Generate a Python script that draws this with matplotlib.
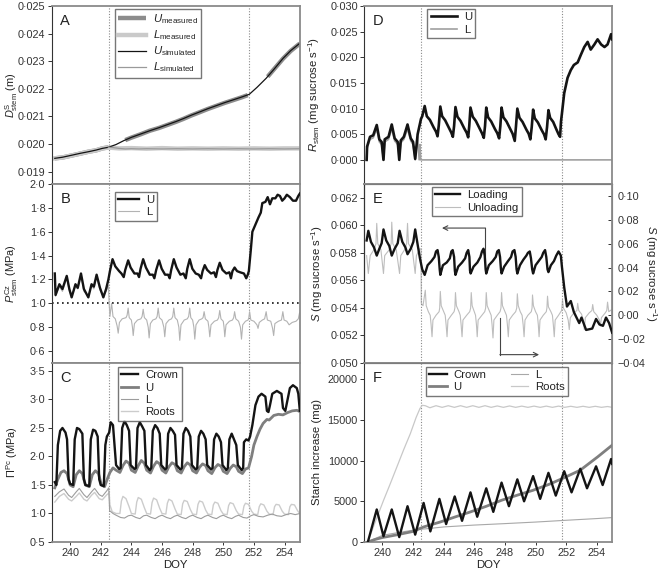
import numpy as np
import matplotlib
matplotlib.use('Agg')
import matplotlib.pyplot as plt
from matplotlib.ticker import FuncFormatter, MultipleLocator

plt.rcParams['font.family'] = ['Liberation Sans', 'DejaVu Sans']
plt.rcParams['mathtext.fontset'] = 'custom'
plt.rcParams['mathtext.rm'] = 'Liberation Sans'
plt.rcParams['mathtext.it'] = 'Liberation Sans:italic'
plt.rcParams['font.size'] = 8.2
plt.rcParams['text.color'] = '#222222'
plt.rcParams['axes.labelcolor'] = '#222222'
plt.rcParams['xtick.color'] = '#333333'
plt.rcParams['ytick.color'] = '#333333'

# ---- data (day of year, value) ----
# A: stem diameter (m)
a_u_meas_1 = [(239.0, 0.01948), (239.5, 0.01951), (240.0, 0.01957), (240.65, 0.01965), (241.2, 0.01972),
              (241.7, 0.01977), (242.1, 0.01984), (242.5, 0.01988)]
a_u_meas_2 = [(243.6, 0.02014), (244.0, 0.02023), (244.6, 0.02035), (245.2, 0.02048), (245.8, 0.02058),
              (246.3, 0.02068), (246.9, 0.02080), (247.4, 0.02091), (247.9, 0.02103), (248.5, 0.02116),
              (249.0, 0.02127), (249.6, 0.02139), (250.1, 0.02149), (250.6, 0.02158), (251.2, 0.02169),
              (251.6, 0.02177)]
a_u_meas_3 = [(252.9, 0.02244), (253.3, 0.02270), (253.9, 0.02309), (254.4, 0.02337), (255.0, 0.02364)]
a_l_meas = [(239.0, 0.01948), (239.5, 0.01951), (240.0, 0.01957), (240.65, 0.01965), (241.2, 0.01972),
            (241.7, 0.01977), (242.1, 0.01984), (242.5, 0.01987), (243.2, 0.01984), (244.0, 0.01985),
            (245.0, 0.01983), (246.0, 0.01985), (247.0, 0.01983), (248.0, 0.01984), (249.0, 0.01983),
            (250.0, 0.01984), (251.0, 0.01983), (252.0, 0.01984), (253.0, 0.01983), (254.0, 0.01984),
            (255.0, 0.01984)]
a_u_sim = [(239.0, 0.01948), (239.5, 0.01952), (240.0, 0.01958), (240.65, 0.01966), (241.2, 0.01972),
           (241.7, 0.01978), (242.1, 0.01984), (242.5, 0.01988), (243.0, 0.01998), (243.5, 0.02012),
           (244.0, 0.02024), (244.6, 0.02036), (245.2, 0.02048), (245.8, 0.02059), (246.3, 0.02069),
           (246.9, 0.02081), (247.4, 0.02092), (247.9, 0.02104), (248.5, 0.02117), (249.0, 0.02128),
           (249.6, 0.02140), (250.1, 0.02150), (250.6, 0.02159), (251.2, 0.02170), (251.7, 0.02180),
           (252.2, 0.02205), (252.8, 0.02238), (253.3, 0.02270), (253.9, 0.02310), (254.4, 0.02338),
           (255.0, 0.02365)]
a_l_sim = [(242.5, 0.01988), (242.8, 0.01987), (243.2, 0.01984), (243.6, 0.01982), (244.0, 0.01983),
           (244.5, 0.01982), (245.0, 0.01983), (246.0, 0.01982), (247.0, 0.01983), (248.0, 0.01982),
           (249.0, 0.01983), (250.0, 0.01982), (251.0, 0.01983), (252.0, 0.01982), (253.0, 0.01983),
           (254.0, 0.01982), (255.0, 0.01983)]

# B: turgor pressure (MPa)
b_u = [(239.0, 1.25), (239.05, 1.07), (239.3, 1.16), (239.5, 1.12), (239.78, 1.23), (239.95, 1.12),
       (240.1, 1.05), (240.35, 1.16), (240.5, 1.13), (240.71, 1.25), (240.9, 1.12), (241.19, 1.05),
       (241.4, 1.16), (241.55, 1.14), (241.73, 1.24), (241.95, 1.13), (242.17, 1.05), (242.35, 1.12),
       (242.5, 1.20), (242.6, 1.27), (242.77, 1.37), (242.95, 1.31), (243.2, 1.27), (243.35, 1.25),
       (243.5, 1.22), (243.6, 1.28), (243.79, 1.36), (243.95, 1.30), (244.2, 1.25), (244.4, 1.25),
       (244.5, 1.22), (244.6, 1.29), (244.77, 1.37), (244.95, 1.30), (245.2, 1.24), (245.4, 1.24),
       (245.5, 1.21), (245.62, 1.28), (245.81, 1.36), (245.98, 1.29), (246.2, 1.24), (246.4, 1.24),
       (246.5, 1.21), (246.6, 1.28), (246.77, 1.37), (246.95, 1.30), (247.2, 1.24), (247.4, 1.25),
       (247.55, 1.21), (247.65, 1.29), (247.81, 1.37), (247.98, 1.29), (248.2, 1.25), (248.4, 1.24),
       (248.55, 1.21), (248.65, 1.27), (248.79, 1.32), (248.95, 1.28), (249.2, 1.25), (249.4, 1.26),
       (249.52, 1.22), (249.62, 1.28), (249.77, 1.34), (249.95, 1.28), (250.2, 1.25), (250.4, 1.26),
       (250.5, 1.21), (250.6, 1.27), (250.74, 1.30), (250.9, 1.27), (251.1, 1.26), (251.35, 1.25),
       (251.5, 1.21), (251.6, 1.24), (251.67, 1.27), (251.8, 1.45), (251.9, 1.60), (252.1, 1.66),
       (252.3, 1.72), (252.45, 1.76), (252.55, 1.84), (252.75, 1.85), (252.9, 1.89), (253.05, 1.83),
       (253.2, 1.88), (253.4, 1.88), (253.55, 1.91), (253.7, 1.90), (253.85, 1.86), (254.0, 1.88),
       (254.15, 1.91), (254.35, 1.89), (254.55, 1.86), (254.75, 1.86), (254.9, 1.90), (255.0, 1.92)]
b_l = [(239.0, 1.23), (239.05, 1.06), (239.3, 1.14), (239.5, 1.10), (239.78, 1.21), (239.95, 1.10),
       (240.1, 1.06), (240.35, 1.14), (240.5, 1.12), (240.71, 1.23), (240.9, 1.10), (241.19, 1.06),
       (241.4, 1.15), (241.55, 1.12), (241.73, 1.22), (241.95, 1.11), (242.17, 1.06), (242.35, 1.10),
       (242.5, 1.15), (242.55, 1.00), (242.6, 0.89), (242.71, 1.00), (242.8, 0.89), (242.95, 0.87),
       (243.07, 0.81), (243.14, 0.75), (243.22, 0.84), (243.4, 0.87), (243.65, 0.88), (243.72, 0.90),
       (243.79, 0.96), (243.86, 0.88), (244.0, 0.86), (244.07, 0.80), (244.12, 0.73), (244.2, 0.83),
       (244.4, 0.86), (244.62, 0.87), (244.7, 0.89), (244.77, 0.95), (244.85, 0.88), (245.0, 0.86),
       (245.1, 0.80), (245.16, 0.71), (245.24, 0.83), (245.4, 0.86), (245.6, 0.87), (245.68, 0.89),
       (245.75, 0.96), (245.83, 0.88), (246.0, 0.86), (246.12, 0.80), (246.18, 0.72), (246.26, 0.83),
       (246.45, 0.86), (246.62, 0.87), (246.7, 0.89), (246.77, 0.96), (246.85, 0.88), (247.0, 0.86),
       (247.1, 0.80), (247.16, 0.69), (247.24, 0.82), (247.45, 0.86), (247.65, 0.87), (247.74, 0.89),
       (247.81, 0.96), (247.88, 0.88), (248.0, 0.86), (248.08, 0.80), (248.14, 0.70), (248.22, 0.82),
       (248.42, 0.86), (248.6, 0.87), (248.68, 0.88), (248.75, 0.93), (248.83, 0.87), (249.0, 0.85),
       (249.06, 0.80), (249.12, 0.72), (249.2, 0.82), (249.42, 0.85), (249.62, 0.86), (249.7, 0.88),
       (249.77, 0.94), (249.85, 0.87), (250.0, 0.85), (250.05, 0.80), (250.1, 0.72), (250.18, 0.82),
       (250.4, 0.85), (250.6, 0.86), (250.68, 0.88), (250.74, 0.93), (250.82, 0.87), (251.0, 0.85),
       (251.12, 0.80), (251.19, 0.70), (251.27, 0.82), (251.45, 0.85), (251.62, 0.86), (251.67, 0.88),
       (251.72, 0.93), (251.8, 0.86), (252.0, 0.85), (252.2, 0.82), (252.27, 0.79), (252.35, 0.84),
       (252.55, 0.86), (252.7, 0.87), (252.8, 0.93), (252.88, 0.86), (253.1, 0.85), (253.22, 0.79),
       (253.29, 0.73), (253.37, 0.83), (253.6, 0.85), (253.8, 0.86), (253.89, 0.93), (253.97, 0.86),
       (254.15, 0.85), (254.3, 0.82), (254.5, 0.84), (254.75, 0.85), (254.9, 0.87), (254.98, 0.92)]

# C: osmotic pressure (MPa)
c_crown = [(239.0, 1.55), (239.1, 1.50), (239.2, 2.20), (239.35, 2.45), (239.5, 2.50), (239.7, 2.42),
           (239.8, 2.30), (239.9, 1.60), (240.0, 1.52), (240.2, 1.50), (240.3, 2.30), (240.45, 2.50),
           (240.6, 2.48), (240.8, 2.40), (240.9, 1.60), (241.0, 1.50), (241.25, 1.48), (241.35, 2.30),
           (241.5, 2.47), (241.65, 2.45), (241.8, 2.35), (241.9, 1.60), (242.0, 1.50), (242.2, 1.48),
           (242.3, 2.20), (242.4, 2.35), (242.55, 2.42), (242.65, 2.60), (242.8, 2.55), (242.9, 2.20),
           (243.0, 1.85), (243.2, 1.78), (243.3, 1.80), (243.4, 2.50), (243.55, 2.62), (243.7, 2.55),
           (243.85, 2.45), (243.95, 1.85), (244.2, 1.78), (244.3, 1.80), (244.4, 2.50), (244.55, 2.60),
           (244.7, 2.53), (244.85, 2.45), (244.95, 1.85), (245.2, 1.76), (245.3, 1.80), (245.4, 2.45),
           (245.55, 2.55), (245.7, 2.50), (245.85, 2.40), (245.95, 1.85), (246.2, 1.77), (246.3, 1.80),
           (246.4, 2.40), (246.55, 2.50), (246.7, 2.45), (246.85, 2.38), (246.95, 1.85), (247.2, 1.77),
           (247.3, 1.80), (247.4, 2.40), (247.55, 2.50), (247.7, 2.45), (247.85, 2.35), (247.95, 1.85),
           (248.2, 1.77), (248.3, 1.80), (248.4, 2.35), (248.55, 2.45), (248.7, 2.40), (248.85, 2.30),
           (248.95, 1.85), (249.2, 1.77), (249.3, 1.80), (249.4, 2.30), (249.55, 2.40), (249.7, 2.35),
           (249.85, 2.25), (249.95, 1.85), (250.2, 1.76), (250.3, 1.80), (250.4, 2.30), (250.55, 2.40),
           (250.7, 2.30), (250.85, 2.20), (250.95, 1.85), (251.2, 1.76), (251.3, 1.80), (251.35, 2.25),
           (251.5, 2.30), (251.65, 2.28), (251.75, 2.35), (251.9, 2.55), (252.1, 2.90), (252.3, 3.05),
           (252.5, 3.10), (252.75, 3.05), (252.85, 2.80), (252.95, 2.78), (253.05, 2.90), (253.2, 3.10),
           (253.5, 3.15), (253.8, 3.10), (253.9, 2.85), (254.05, 2.80), (254.2, 3.00), (254.35, 3.20),
           (254.55, 3.25), (254.8, 3.20), (254.9, 3.10), (255.0, 2.80)]
c_u = [(239.0, 1.45), (239.2, 1.60), (239.4, 1.72), (239.6, 1.75), (239.8, 1.70), (240.0, 1.50),
       (240.2, 1.47), (240.4, 1.68), (240.6, 1.75), (240.8, 1.70), (241.0, 1.50), (241.25, 1.47),
       (241.45, 1.68), (241.65, 1.75), (241.85, 1.70), (242.05, 1.50), (242.25, 1.47), (242.45, 1.62),
       (242.6, 1.72), (242.8, 1.80), (243.0, 1.76), (243.25, 1.72), (243.45, 1.84), (243.65, 1.92),
       (243.85, 1.88), (244.0, 1.76), (244.25, 1.72), (244.45, 1.84), (244.65, 1.93), (244.85, 1.88),
       (245.0, 1.76), (245.25, 1.71), (245.45, 1.83), (245.65, 1.91), (245.85, 1.87), (246.0, 1.76),
       (246.25, 1.71), (246.45, 1.82), (246.65, 1.89), (246.85, 1.86), (247.0, 1.75), (247.25, 1.71),
       (247.45, 1.82), (247.65, 1.89), (247.85, 1.85), (248.0, 1.75), (248.25, 1.71), (248.45, 1.81),
       (248.65, 1.87), (248.85, 1.84), (249.0, 1.75), (249.25, 1.70), (249.45, 1.80), (249.65, 1.86),
       (249.85, 1.83), (250.0, 1.74), (250.25, 1.70), (250.45, 1.79), (250.65, 1.85), (250.85, 1.82),
       (251.0, 1.74), (251.25, 1.70), (251.45, 1.78), (251.65, 1.80), (251.85, 2.00), (252.0, 2.20),
       (252.2, 2.35), (252.4, 2.48), (252.6, 2.58), (252.85, 2.65), (253.0, 2.64), (253.3, 2.72),
       (253.6, 2.74), (253.9, 2.73), (254.2, 2.77), (254.5, 2.80), (254.8, 2.81), (255.0, 2.79)]
c_l = [(239.0, 1.30), (239.3, 1.38), (239.6, 1.43), (239.9, 1.32), (240.1, 1.28), (240.4, 1.38),
       (240.6, 1.44), (240.9, 1.33), (241.1, 1.28), (241.4, 1.38), (241.6, 1.44), (241.9, 1.33),
       (242.1, 1.30), (242.4, 1.40), (242.52, 1.45), (242.58, 1.05), (242.8, 1.00), (243.0, 0.97),
       (243.3, 0.93), (243.55, 0.92), (243.8, 0.96), (244.0, 0.97), (244.3, 0.93), (244.55, 0.91),
       (244.8, 0.96), (245.0, 0.97), (245.3, 0.93), (245.55, 0.91), (245.8, 0.95), (246.0, 0.97),
       (246.3, 0.93), (246.55, 0.91), (246.8, 0.95), (247.0, 0.97), (247.3, 0.93), (247.55, 0.91),
       (247.8, 0.95), (248.0, 0.97), (248.3, 0.93), (248.55, 0.91), (248.8, 0.95), (249.0, 0.97),
       (249.3, 0.93), (249.55, 0.91), (249.8, 0.95), (250.0, 0.97), (250.3, 0.93), (250.55, 0.91),
       (250.8, 0.95), (251.0, 0.97), (251.3, 0.93), (251.55, 0.92), (251.8, 0.96), (252.0, 0.98),
       (252.3, 0.95), (252.6, 0.94), (252.9, 0.97), (253.2, 0.99), (253.5, 0.96), (253.8, 0.95),
       (254.1, 0.98), (254.4, 1.00), (254.7, 0.98), (255.0, 1.00)]
c_roots = [(239.0, 1.20), (239.3, 1.30), (239.6, 1.35), (239.9, 1.25), (240.1, 1.22), (240.4, 1.30),
           (240.6, 1.36), (240.9, 1.25), (241.1, 1.22), (241.4, 1.32), (241.6, 1.37), (241.9, 1.26),
           (242.1, 1.24), (242.4, 1.33), (242.55, 1.36), (242.6, 1.15), (242.75, 1.03), (243.0, 1.00),
           (243.25, 1.00), (243.35, 1.22), (243.45, 1.30), (243.65, 1.26), (243.85, 1.12), (244.0, 1.00),
           (244.25, 0.99), (244.35, 1.20), (244.45, 1.28), (244.65, 1.25), (244.85, 1.10), (245.0, 1.00),
           (245.25, 0.99), (245.35, 1.19), (245.45, 1.27), (245.65, 1.24), (245.85, 1.09), (246.0, 1.00),
           (246.25, 0.99), (246.35, 1.18), (246.45, 1.25), (246.65, 1.22), (246.85, 1.08), (247.0, 0.99),
           (247.25, 0.98), (247.35, 1.17), (247.45, 1.23), (247.65, 1.21), (247.85, 1.07), (248.0, 0.99),
           (248.25, 0.98), (248.35, 1.16), (248.45, 1.22), (248.65, 1.20), (248.85, 1.06), (249.0, 0.99),
           (249.25, 0.98), (249.35, 1.15), (249.45, 1.20), (249.65, 1.18), (249.85, 1.05), (250.0, 0.99),
           (250.25, 0.98), (250.35, 1.14), (250.45, 1.19), (250.65, 1.17), (250.85, 1.05), (251.0, 0.99),
           (251.25, 0.98), (251.35, 1.13), (251.45, 1.18), (251.65, 1.16), (251.85, 1.04), (252.0, 0.99),
           (252.25, 0.98), (252.35, 1.12), (252.45, 1.17), (252.65, 1.15), (252.85, 1.04), (253.0, 0.99),
           (253.25, 0.98), (253.35, 1.12), (253.45, 1.16), (253.65, 1.15), (253.85, 1.04), (254.0, 0.99),
           (254.25, 0.98), (254.35, 1.12), (254.45, 1.16), (254.65, 1.15), (254.85, 1.05), (255.0, 1.00)]

# D: stem respiration / transfer (mg sucrose s-1)
d_u = [(238.97, 0.0), (239.0, 0.0026), (239.19, 0.0045), (239.4, 0.0048), (239.63, 0.0068),
       (239.8, 0.0040), (239.95, 0.0035), (240.07, 0.0), (240.15, 0.0040), (240.4, 0.0045),
       (240.61, 0.0069), (240.8, 0.0042), (241.0, 0.0035), (241.1, 0.0), (241.2, 0.0038),
       (241.4, 0.0045), (241.64, 0.0069), (241.85, 0.0042), (242.0, 0.0035), (242.14, 0.0002),
       (242.3, 0.0050), (242.52, 0.0080), (242.6, 0.0085), (242.76, 0.0105), (242.9, 0.0085),
       (243.1, 0.0078), (243.35, 0.0063), (243.5, 0.0055), (243.6, 0.0046), (243.68, 0.0067),
       (243.78, 0.0104), (243.9, 0.0085), (244.1, 0.0077), (244.35, 0.0062), (244.5, 0.0053),
       (244.6, 0.0045), (244.68, 0.0066), (244.77, 0.0103), (244.9, 0.0084), (245.1, 0.0076),
       (245.35, 0.0061), (245.5, 0.0053), (245.6, 0.0044), (245.67, 0.0066), (245.75, 0.0102),
       (245.9, 0.0084), (246.1, 0.0076), (246.35, 0.0061), (246.5, 0.0052), (246.62, 0.0043),
       (246.7, 0.0066), (246.78, 0.0102), (246.9, 0.0083), (247.1, 0.0075), (247.35, 0.0060),
       (247.5, 0.0052), (247.62, 0.0042), (247.7, 0.0066), (247.78, 0.0102), (247.9, 0.0083),
       (248.1, 0.0075), (248.35, 0.0060), (248.5, 0.0051), (248.64, 0.0037), (248.72, 0.0065),
       (248.81, 0.0100), (248.95, 0.0082), (249.15, 0.0074), (249.4, 0.0059), (249.55, 0.0051),
       (249.66, 0.0040), (249.75, 0.0064), (249.84, 0.0098), (249.95, 0.0081), (250.15, 0.0073),
       (250.4, 0.0058), (250.55, 0.0050), (250.66, 0.0040), (250.75, 0.0064), (250.84, 0.0097),
       (250.95, 0.0082), (251.15, 0.0074), (251.35, 0.0060), (251.5, 0.0050), (251.6, 0.0045),
       (251.66, 0.0075), (251.72, 0.0090), (251.87, 0.0130), (252.09, 0.0160), (252.3, 0.0175),
       (252.5, 0.0185), (252.75, 0.0190), (252.96, 0.0205), (253.18, 0.0220), (253.4, 0.0230),
       (253.6, 0.0215), (253.84, 0.0225), (254.05, 0.0235), (254.28, 0.0225), (254.5, 0.0220),
       (254.7, 0.0225), (254.93, 0.0245), (255.0, 0.0235)]
d_l = [(238.97, 0.0), (239.0, 0.0022), (239.19, 0.0040), (239.4, 0.0043), (239.63, 0.0060),
       (239.8, 0.0035), (239.95, 0.0030), (240.07, 0.0), (240.15, 0.0035), (240.4, 0.0040),
       (240.61, 0.0060), (240.8, 0.0037), (241.0, 0.0030), (241.1, 0.0), (241.2, 0.0033),
       (241.4, 0.0040), (241.64, 0.0060), (241.85, 0.0037), (242.0, 0.0030), (242.14, 0.0),
       (242.3, 0.0045), (242.4, 0.0), (242.45, 0.0030), (242.5, 0.0), (243.0, 0.0), (255.0, 0.0)]

# E: loading (left axis) and unloading (right axis), mg sucrose s-1
e_load = [(238.97, 0.0589), (239.08, 0.0596), (239.25, 0.0588), (239.45, 0.0584), (239.63, 0.0578),
          (239.8, 0.0583), (239.95, 0.0587), (240.07, 0.0597), (240.25, 0.0589), (240.45, 0.0585),
          (240.61, 0.0578), (240.8, 0.0583), (241.0, 0.0587), (241.12, 0.0596), (241.3, 0.0588),
          (241.5, 0.0584), (241.64, 0.0579), (241.85, 0.0583), (242.02, 0.0588), (242.14, 0.0597),
          (242.3, 0.0586), (242.45, 0.0576), (242.6, 0.0568), (242.76, 0.0564), (242.95, 0.0571),
          (243.2, 0.0574), (243.4, 0.0577), (243.5, 0.0581), (243.6, 0.0582), (243.68, 0.0577),
          (243.74, 0.0568), (243.78, 0.0564), (243.95, 0.0571), (244.2, 0.0573), (244.4, 0.0576),
          (244.5, 0.0581), (244.59, 0.0582), (244.68, 0.0577), (244.73, 0.0567), (244.77, 0.0564),
          (244.95, 0.0570), (245.2, 0.0573), (245.4, 0.0576), (245.5, 0.0580), (245.6, 0.0582),
          (245.68, 0.0577), (245.72, 0.0567), (245.76, 0.0565), (245.95, 0.0570), (246.2, 0.0573),
          (246.4, 0.0577), (246.5, 0.0581), (246.6, 0.0583), (246.68, 0.0578), (246.74, 0.0568),
          (246.78, 0.0565), (246.95, 0.0571), (247.2, 0.0574), (247.4, 0.0577), (247.5, 0.0581),
          (247.6, 0.0582), (247.68, 0.0577), (247.74, 0.0568), (247.78, 0.0565), (247.95, 0.0570),
          (248.2, 0.0574), (248.4, 0.0577), (248.5, 0.0581), (248.62, 0.0582), (248.7, 0.0577),
          (248.76, 0.0568), (248.81, 0.0565), (248.98, 0.0571), (249.2, 0.0575), (249.4, 0.0578),
          (249.5, 0.0580), (249.62, 0.0581), (249.7, 0.0576), (249.78, 0.0568), (249.84, 0.0565),
          (250.0, 0.0571), (250.2, 0.0574), (250.4, 0.0577), (250.5, 0.0580), (250.62, 0.0582),
          (250.7, 0.0577), (250.78, 0.0568), (250.84, 0.0566), (251.0, 0.0571), (251.2, 0.0574),
          (251.35, 0.0578), (251.5, 0.0581), (251.65, 0.0578), (251.72, 0.0570), (251.87, 0.0555),
          (252.05, 0.0541), (252.3, 0.0545), (252.5, 0.0537), (252.85, 0.0529), (253.0, 0.0533),
          (253.3, 0.0524), (253.7, 0.0525), (253.95, 0.0532), (254.17, 0.0528), (254.4, 0.0527),
          (254.6, 0.0533), (254.8, 0.0529), (255.0, 0.0522)]
e_unload = [(238.97, 0.050), (239.08, 0.035), (239.2, 0.050), (239.45, 0.055), (239.58, 0.060),
            (239.63, 0.077), (239.7, 0.060), (239.9, 0.055), (240.07, 0.035), (240.15, 0.050),
            (240.45, 0.055), (240.57, 0.060), (240.61, 0.078), (240.68, 0.060), (240.9, 0.055),
            (241.12, 0.035), (241.2, 0.050), (241.45, 0.055), (241.58, 0.060), (241.64, 0.077),
            (241.7, 0.060), (241.95, 0.055), (242.14, 0.035), (242.22, 0.050), (242.45, 0.056),
            (242.52, 0.055), (242.54, 0.010), (242.65, 0.008), (242.8, 0.021), (242.86, 0.008),
            (243.0, 0.003), (243.12, 0.0), (243.18, -0.008), (243.24, -0.018), (243.3, -0.004),
            (243.5, 0.0), (243.7, 0.003), (243.74, 0.006), (243.78, 0.020), (243.84, 0.008),
            (244.0, 0.003), (244.1, 0.0), (244.16, -0.008), (244.22, -0.018), (244.28, -0.004),
            (244.5, 0.0), (244.68, 0.003), (244.73, 0.006), (244.77, 0.019), (244.83, 0.008),
            (245.0, 0.003), (245.08, 0.0), (245.14, -0.008), (245.2, -0.018), (245.26, -0.004),
            (245.5, 0.0), (245.7, 0.003), (245.76, 0.006), (245.8, 0.019), (245.86, 0.008),
            (246.0, 0.003), (246.08, 0.0), (246.14, -0.008), (246.19, -0.018), (246.25, -0.004),
            (246.5, 0.0), (246.68, 0.003), (246.74, 0.006), (246.78, 0.019), (246.84, 0.008),
            (247.0, 0.003), (247.1, 0.0), (247.16, -0.008), (247.22, -0.019), (247.28, -0.004),
            (247.5, 0.0), (247.68, 0.003), (247.74, 0.006), (247.78, 0.019), (247.84, 0.008),
            (248.0, 0.003), (248.1, 0.0), (248.16, -0.008), (248.22, -0.018), (248.28, -0.004),
            (248.5, 0.0), (248.7, 0.003), (248.77, 0.006), (248.81, 0.018), (248.87, 0.008),
            (249.0, 0.003), (249.12, 0.0), (249.19, -0.008), (249.25, -0.018), (249.31, -0.004),
            (249.5, 0.0), (249.72, 0.003), (249.77, 0.006), (249.8, 0.017), (249.86, 0.008),
            (250.0, 0.003), (250.12, 0.0), (250.18, -0.008), (250.23, -0.018), (250.29, -0.004),
            (250.5, 0.0), (250.7, 0.003), (250.74, 0.006), (250.78, 0.016), (250.84, 0.007),
            (251.0, 0.003), (251.1, 0.0), (251.16, -0.008), (251.22, -0.018), (251.28, -0.004),
            (251.5, 0.0), (251.7, 0.004), (251.76, 0.013), (251.82, 0.006), (252.0, 0.002),
            (252.13, -0.004), (252.2, -0.012), (252.27, -0.002), (252.5, 0.002), (252.7, 0.004),
            (252.75, 0.010), (252.82, 0.004), (253.0, 0.001), (253.12, -0.004), (253.18, -0.012),
            (253.25, -0.002), (253.5, 0.002), (253.68, 0.004), (253.73, 0.009), (253.8, 0.003),
            (254.0, 0.0), (254.17, -0.004), (254.23, -0.009), (254.3, -0.002), (254.55, 0.002),
            (254.65, 0.004), (254.7, 0.011), (254.78, 0.003), (255.0, 0.005)]

# F: starch increase (mg)
f_crown = [(239.05, 0), (239.63, 4000), (240.07, 700), (240.61, 4000), (241.1, 600), (241.64, 4400),
           (242.14, 900), (242.69, 4800), (243.13, 1300), (243.72, 5300), (244.16, 2200), (244.72, 5600),
           (245.2, 2600), (245.75, 6100), (246.19, 3100), (246.78, 6600), (247.24, 3700), (247.78, 7300),
           (248.26, 4400), (248.81, 7700), (249.25, 5000), (249.84, 8100), (250.3, 5300), (250.84, 8500),
           (251.32, 5700), (251.87, 8700), (252.35, 6100), (252.92, 9000), (253.36, 6600), (253.95, 9300),
           (254.38, 7000), (254.93, 10200), (255.0, 9600)]
f_u = [(239.05, 0), (239.5, 300), (240.0, 550), (241.0, 900), (242.0, 1300), (242.69, 1850),
       (243.78, 2460), (244.7, 3050), (245.75, 3700), (246.8, 4400), (247.78, 5130), (248.8, 5750),
       (249.84, 6360), (250.9, 7100), (251.87, 7900), (252.92, 8830), (254.06, 10470), (255.0, 11900)]
f_l = [(239.05, 0), (239.5, 400), (240.0, 820), (241.0, 1150), (242.0, 1450), (242.5, 1560),
       (243.0, 1650), (244.0, 1850), (246.0, 2080), (248.0, 2260), (250.0, 2450), (252.0, 2670),
       (254.0, 2880), (255.0, 3000)]
f_roots = [(239.05, 0), (239.5, 2300), (240.07, 5100), (240.5, 7100), (240.94, 9200), (241.4, 11400),
           (241.82, 13300), (242.2, 15300), (242.45, 16400), (242.6, 16800), (242.8, 16750),
           (243.1, 16500), (243.5, 16750), (243.9, 16550), (244.3, 16750), (244.7, 16550), (245.1, 16750),
           (245.5, 16550), (245.9, 16750), (246.3, 16550), (246.7, 16750), (247.1, 16550), (247.5, 16720),
           (247.9, 16550), (248.3, 16720), (248.7, 16550), (249.1, 16700), (249.5, 16550), (249.9, 16700),
           (250.3, 16550), (250.7, 16700), (251.1, 16550), (251.5, 16700), (251.9, 16550), (252.3, 16680),
           (252.7, 16550), (253.1, 16680), (253.5, 16550), (253.9, 16680), (254.3, 16550), (254.7, 16650),
           (255.0, 16550)]

phase_lines = [242.55, 251.7]
x_limits = (238.8, 255.0)
x_ticks = [240, 242, 244, 246, 248, 250, 252, 254]


def xy(pairs):
    arr = np.array(pairs, dtype=float)
    return arr[:, 0], arr[:, 1]


def dotfmt(nd):
    return FuncFormatter(lambda v, p: f'{v:.{nd}f}'.replace('.', '\u00b7').replace('-', '\u2212'))


BLACK = '#141414'
SPINE = '#8a8a8a'
TICK_FS = 7.8
LAB_FS = 8.2

fig = plt.figure(figsize=(6.59, 5.75), dpi=100)
lx, rx, w = 0.0785, 0.5524, 0.3765
rows = [(0.680, 0.3096), (0.3687, 0.3113), (0.0574, 0.3113)]
axA = fig.add_axes([lx, rows[0][0], w, rows[0][1]])
axB = fig.add_axes([lx, rows[1][0], w, rows[1][1]])
axC = fig.add_axes([lx, rows[2][0], w, rows[2][1]])
axD = fig.add_axes([rx, rows[0][0], w, rows[0][1]])
axE = fig.add_axes([rx, rows[1][0], w, rows[1][1]])
axF = fig.add_axes([rx, rows[2][0], w, rows[2][1]])

for ax in [axA, axB, axC, axD, axE, axF]:
    ax.set_xlim(*x_limits)
    ax.set_xticks(x_ticks)
    for s in ['top', 'bottom', 'right']:
        ax.spines[s].set_color(SPINE)
        ax.spines[s].set_linewidth(1.3)
    ax.spines['left'].set_color('#333333')
    ax.spines['left'].set_linewidth(0.8)
    ax.tick_params(axis='y', direction='out', length=3, width=0.7, labelsize=TICK_FS, pad=1.5)
    ax.tick_params(axis='x', direction='out', length=2, width=0.7, labelsize=TICK_FS, pad=2)
    for d in phase_lines:
        ax.axvline(d, color='#8a8a8a', lw=0.8, ls=(0, (1, 1.5)), zorder=1)
for ax in [axA, axB, axD, axE]:
    ax.tick_params(axis='x', length=0, labelbottom=False)

leg_kw = dict(frameon=True, fancybox=False, edgecolor='#555555', fontsize=8.2,
              borderpad=0.3, labelspacing=0.2, handletextpad=0.6, borderaxespad=0)

# ---- A ----
axA.plot(*xy(a_u_meas_1), color='#8c8c8c', lw=3.2, solid_capstyle='butt', label=r'$U_{\mathrm{measured}}$')
axA.plot(*xy(a_u_meas_2), color='#8c8c8c', lw=3.2, solid_capstyle='butt')
axA.plot(*xy(a_u_meas_3), color='#8c8c8c', lw=3.2, solid_capstyle='butt')
axA.plot(*xy(a_l_meas), color='#cacaca', lw=3.2, label=r'$L_{\mathrm{measured}}$')
axA.plot(*xy(a_u_sim), color=BLACK, lw=0.9, label=r'$U_{\mathrm{simulated}}$')
axA.plot(*xy(a_l_sim), color='#9a9a9a', lw=0.9, label=r'$L_{\mathrm{simulated}}$')
axA.set_ylim(0.01855, 0.025)
axA.yaxis.set_major_locator(MultipleLocator(0.001))
axA.yaxis.set_major_formatter(dotfmt(3))
axA.set_ylabel(r'$D^{\mathrm{S}}_{\mathrm{stem}}$ (m)', fontsize=7.9)
h, l = axA.get_legend_handles_labels()
axA.legend(h, l, loc='upper left', bbox_to_anchor=(0.255, 0.983), handlelength=2.4, **leg_kw)

# ---- B ----
axB.axhline(1.0, color=BLACK, lw=1.2, ls=(0, (1, 2)), zorder=1)
axB.plot(*xy(b_l), color='#b3b3b3', lw=0.8, label='L', zorder=2)
axB.plot(*xy(b_u), color=BLACK, lw=1.7, label='U', zorder=3)
axB.set_ylim(0.5, 2.0)
axB.set_yticks([0.6, 0.8, 1.0, 1.2, 1.4, 1.6, 1.8, 2.0])
axB.yaxis.set_major_formatter(dotfmt(1))
axB.set_ylabel(r'$P^{\mathrm{Cz}}_{\mathrm{stem}}$ (MPa)', fontsize=7.9)
h, l = axB.get_legend_handles_labels()
axB.legend(h[::-1], l[::-1], loc='upper left', bbox_to_anchor=(0.255, 0.958), handlelength=1.8, **leg_kw)

# ---- C ----
axC.plot(*xy(c_roots), color='#cccccc', lw=1.0, label='Roots', zorder=2)
axC.plot(*xy(c_l), color='#9c9c9c', lw=0.8, label='L', zorder=2)
axC.plot(*xy(c_u), color='#7f7f7f', lw=2.0, label='U', zorder=3)
axC.plot(*xy(c_crown), color=BLACK, lw=1.7, label='Crown', zorder=4)
axC.set_ylim(0.5, 3.64)
axC.set_yticks([0.5, 1.0, 1.5, 2.0, 2.5, 3.0, 3.5])
axC.yaxis.set_major_formatter(dotfmt(1))
axC.set_ylabel(r'$\mathit{\Pi}^{\mathrm{Pc}}$ (MPa)', fontsize=7.9)
axC.set_xlabel('DOY', labelpad=2, fontsize=LAB_FS)
h, l = axC.get_legend_handles_labels()
axC.legend(h[::-1], l[::-1], loc='upper left', bbox_to_anchor=(0.267, 0.978), handlelength=1.5, **leg_kw)

# ---- D ----
axD.plot(*xy(d_l), color='#a0a0a0', lw=1.2, label='L', zorder=2)
axD.plot(*xy(d_u), color=BLACK, lw=1.9, label='U', zorder=3)
axD.set_ylim(-0.0047, 0.030)
axD.set_yticks([0.0, 0.005, 0.010, 0.015, 0.020, 0.025, 0.030])
axD.yaxis.set_major_formatter(dotfmt(3))
axD.set_ylabel(r'$R_{\mathrm{stem}}$ (mg sucrose s$^{-1}$)', fontsize=LAB_FS)
h, l = axD.get_legend_handles_labels()
axD.legend(h[::-1], l[::-1], loc='upper left', bbox_to_anchor=(0.255, 0.983), handlelength=2.3, **leg_kw)

# ---- E ----
axE2 = axE.twinx()
axE2.set_xlim(*x_limits)
axE2.plot(*xy(e_unload), color='#bdbdbd', lw=0.8, zorder=2)
axE.set_zorder(axE2.get_zorder() + 1)
axE.patch.set_visible(False)
axE.plot(*xy(e_load), color=BLACK, lw=1.7, zorder=3)
axE.set_ylim(0.050, 0.063)
axE.set_yticks([0.050, 0.052, 0.054, 0.056, 0.058, 0.060, 0.062])
axE.yaxis.set_major_formatter(dotfmt(3))
axE.set_ylabel(r'$S$ (mg sucrose s$^{-1}$)', fontsize=LAB_FS)
axE2.set_ylim(-0.04, 0.11)
axE2.set_yticks([-0.04, -0.02, 0.0, 0.02, 0.04, 0.06, 0.08, 0.10])
axE2.yaxis.set_major_formatter(dotfmt(2))
axE2.tick_params(axis='y', direction='in', length=3, width=0.7, labelsize=TICK_FS, pad=4)
axE2.spines['right'].set_color('#555555')
axE2.spines['right'].set_linewidth(0.8)
axE2.set_ylabel(r'$S$ (mg sucrose s$^{-1}$)', rotation=270, fontsize=LAB_FS, va='center')
load_h, = axE.plot([], [], color=BLACK, lw=1.7)
unload_h, = axE.plot([], [], color='#bdbdbd', lw=0.8)
axE.legend([load_h, unload_h], ['Loading', 'Unloading'], loc='upper left',
           bbox_to_anchor=(0.274, 0.983), handlelength=2.2, **leg_kw)
# arrows pointing to the axis each curve belongs to
axE.plot([246.73, 246.73], [0.0568, 0.0598], color='#444444', lw=0.8)
axE.annotate('', xy=(243.89, 0.0598), xytext=(246.73, 0.0598),
             arrowprops=dict(arrowstyle='->', color='#444444', lw=0.8, shrinkA=0, shrinkB=0))
axE2.plot([247.67, 247.67], [-0.0023, -0.033], color='#444444', lw=0.8)
axE2.annotate('', xy=(250.23, -0.033), xytext=(247.67, -0.033),
              arrowprops=dict(arrowstyle='->', color='#444444', lw=0.8, shrinkA=0, shrinkB=0))

# ---- F ----
axF.plot(*xy(f_roots), color='#c8c8c8', lw=0.9, zorder=2)
axF.plot(*xy(f_l), color='#a8a8a8', lw=0.8, zorder=2)
axF.plot(*xy(f_u), color='#7f7f7f', lw=2.0, zorder=3)
axF.plot(*xy(f_crown), color=BLACK, lw=1.7, zorder=4)
axF.set_ylim(0, 22000)
axF.set_yticks([0, 5000, 10000, 15000, 20000])
axF.yaxis.set_major_formatter(FuncFormatter(lambda v, p: f'{v:.0f}'))
axF.set_ylabel('Starch increase (mg)', fontsize=LAB_FS)
axF.set_xlabel('DOY', labelpad=2, fontsize=LAB_FS)
hc, = axF.plot([], [], color=BLACK, lw=1.7)
hu, = axF.plot([], [], color='#7f7f7f', lw=2.0)
hl, = axF.plot([], [], color='#a8a8a8', lw=0.8)
hr, = axF.plot([], [], color='#c8c8c8', lw=0.9)
axF.legend([hc, hu, hl, hr], ['Crown', 'U', 'L', 'Roots'], ncol=2, columnspacing=2.2,
           loc='upper left', bbox_to_anchor=(0.25, 0.98), handlelength=1.5, **leg_kw)

# y-label positions (axes fraction of the label's inner edge) as in the original layout
for ax in [axA, axB, axC]:
    ax.yaxis.set_label_coords(-0.128, 0.5)
axD.yaxis.set_label_coords(-0.17, 0.5)
axE.yaxis.set_label_coords(-0.157, 0.5)
axF.yaxis.set_label_coords(-0.17, 0.5)
axE2.yaxis.set_label_coords(1.155, 0.5)

for ax, letter in zip([axA, axB, axC, axD, axE, axF], 'ABCDEF'):
    ax.text(0.035, 0.955, letter, transform=ax.transAxes, fontsize=10.5, va='top', ha='left', zorder=10)

fig.savefig('out.png', dpi=100)
